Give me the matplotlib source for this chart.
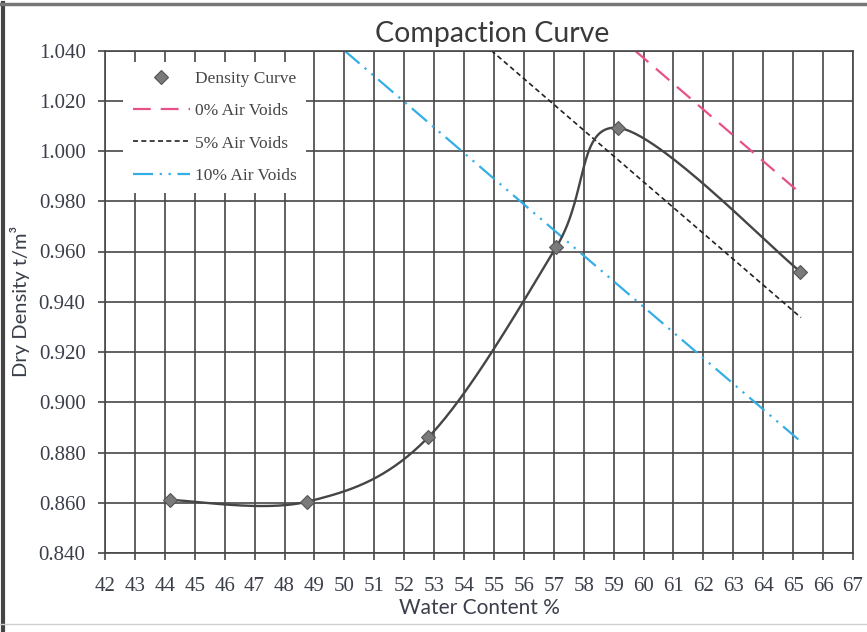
import numpy as np
import matplotlib
matplotlib.use("Agg")
import matplotlib.pyplot as plt
from matplotlib.lines import Line2D

# ---- data ----
water_content = [44.18, 48.75, 52.8, 57.09, 59.15, 65.24]
dry_density = [0.8611, 0.8604, 0.886, 0.9619, 1.0092, 0.952]

zav0_x = [59.71, 65.26]
zav0_y = [1.040, 0.983]
av5_x = [54.91, 65.26]
av5_y = [1.040, 0.9337]
av10_x = [50.0, 65.23]
av10_y = [1.040, 0.8846]

x_ticks = list(range(42, 68))
y_ticks = [0.840, 0.860, 0.880, 0.900, 0.920, 0.940, 0.960, 0.980, 1.000, 1.020, 1.040]
y_tick_labels = ["%.3f" % v for v in y_ticks]

W, H = 867, 632
fig = plt.figure(figsize=(W / 100, H / 100), dpi=100)
ax = fig.add_axes([105 / W, 1 - 553 / H, (853 - 105) / W, (553 - 50.5) / H])
ax.set_xlim(42, 67)
ax.set_ylim(0.840, 1.040)

grid_c = "#474747"
ax.set_xticks(x_ticks)
ax.set_yticks(y_ticks)
ax.set_yticklabels(y_tick_labels)
ax.grid(True, color=grid_c, lw=1.2, zorder=0)
ax.set_axisbelow(True)
for s in ax.spines.values():
    s.set_color(grid_c)
    s.set_linewidth(1.2)
ax.tick_params(direction="out", length=5, width=1.2, color=grid_c,
               labelsize=15, labelcolor="#3b3f4a")
ax.tick_params(axis="x", pad=12)
ax.tick_params(axis="y", pad=9)
for lab in ax.get_xticklabels() + ax.get_yticklabels():
    lab.set_fontfamily("Liberation Serif")

# ---- smooth curve (Excel-like Bezier smoothing in display space) ----
fig.canvas.draw()
pts = ax.transData.transform(np.column_stack([water_content, dry_density]))
n = len(pts)
curve = []
for i in range(n - 1):
    p0 = pts[i - 1] if i > 0 else pts[i]
    p1 = pts[i]
    p2 = pts[i + 1]
    p3 = pts[i + 2] if i + 2 < n else pts[i + 1]
    c1 = p1 + (p2 - p0) / 6.0
    c2 = p2 - (p3 - p1) / 6.0
    t = np.linspace(0, 1, 60)[:, None]
    seg = ((1 - t) ** 3) * p1 + 3 * ((1 - t) ** 2) * t * c1 + 3 * (1 - t) * t ** 2 * c2 + t ** 3 * p2
    curve.append(seg if i == 0 else seg[1:])
curve = np.vstack(curve)
curve_data = ax.transData.inverted().transform(curve)
ax.plot(curve_data[:, 0], curve_data[:, 1], color="#454545", lw=1.7, zorder=3)

ax.plot(water_content, dry_density, linestyle="none", marker="D", ms=7,
        mfc="#7a7a7a", mec="#555555", mew=0.8, zorder=4, label="Density Curve")

ax.plot(zav0_x, zav0_y, color="#e8508a", lw=1.6, dashes=(8, 4.5), zorder=2,
        label="0% Air Voids")
ax.plot(av5_x, av5_y, color="#222222", lw=1.2, dashes=(3, 2), zorder=2,
        label="5% Air Voids")
ax.plot(av10_x, av10_y, color="#35aee6", lw=1.6, dashes=(9, 3, 1, 3, 1, 3), zorder=2,
        label="10% Air Voids")

leg = ax.legend(loc="upper left", bbox_to_anchor=(0.024, 0.978), frameon=True,
                fancybox=False, framealpha=1, facecolor="white", edgecolor="none",
                prop={"family": "Liberation Serif", "size": 12.5},
                labelspacing=0.92, handlelength=3.3, handletextpad=0.3,
                borderpad=0.55, borderaxespad=0)
for t in leg.get_texts():
    t.set_color("#444444")

ax.set_title("Compaction Curve", fontfamily="Lato", fontsize=20.5, color="#3a3a3a",
             pad=6, x=0.518)
ax.set_xlabel("Water Content %", fontfamily="Lato", fontsize=15, color="#3b3f4a", labelpad=2)
ax.set_ylabel("Dry Density t/m³", fontfamily="Lato", fontsize=14.5, color="#3b3f4a", labelpad=6)

# figure border
fig.add_artist(Line2D([0.004, 0.004], [0, 0.995], transform=fig.transFigure, color="#444444", lw=3))
fig.add_artist(Line2D([0, 1], [0.993, 0.993], transform=fig.transFigure, color="#777777", lw=2.5))
fig.add_artist(Line2D([0, 1], [0.012, 0.012], transform=fig.transFigure, color="#d0d0d0", lw=1))

fig.savefig("out.png", dpi=100)
